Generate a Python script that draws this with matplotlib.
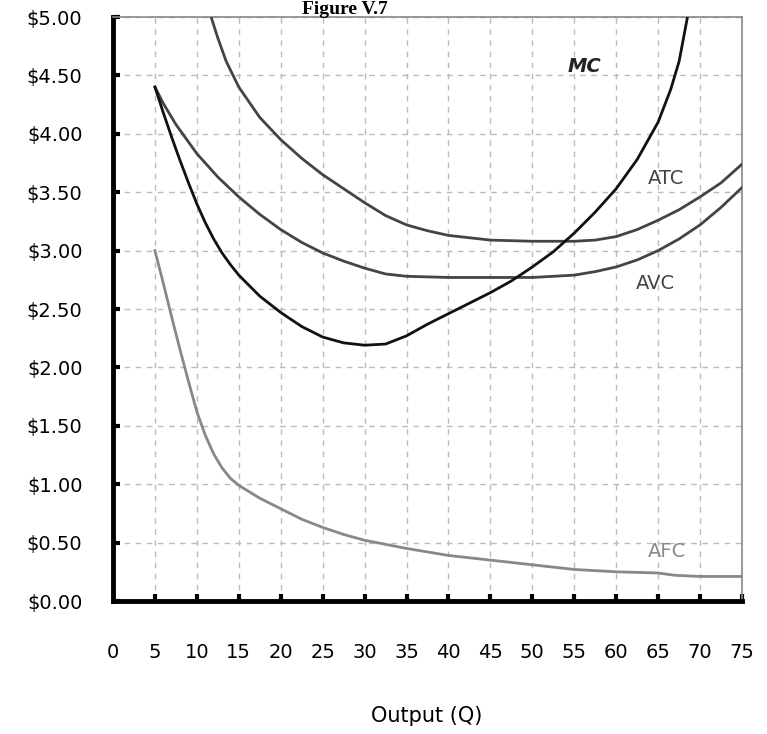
import matplotlib
matplotlib.use("Agg")
import matplotlib.pyplot as plt

# cost curves
mc_q = [5, 6, 7, 8, 9, 10, 11, 12, 13, 14, 15, 17.5, 20, 22.5, 25, 27.5, 30, 32.5, 35, 37.5,
        40, 42.5, 45, 47.5, 50, 52.5, 55, 57.5, 60, 62.5, 65, 66.5, 67.5, 68.5]
mc = [4.40, 4.18, 3.97, 3.77, 3.58, 3.40, 3.24, 3.10, 2.98, 2.88, 2.79, 2.61, 2.47, 2.35, 2.26, 2.21, 2.19, 2.20, 2.27, 2.37,
      2.46, 2.55, 2.64, 2.74, 2.86, 2.99, 3.15, 3.33, 3.53, 3.78, 4.10, 4.38, 4.62, 5.0]

atc_q = [11.7, 12.5, 13.5, 15, 17.5, 20, 22.5, 25, 27.5, 30, 32.5, 35, 37.5, 40, 42.5, 45, 50,
         55, 57.5, 60, 62.5, 65, 67.5, 70, 72.5, 75]
atc = [5.0, 4.82, 4.62, 4.40, 4.14, 3.95, 3.79, 3.65, 3.53, 3.41, 3.30, 3.22, 3.17, 3.13, 3.11, 3.09, 3.08,
       3.08, 3.09, 3.12, 3.18, 3.26, 3.35, 3.46, 3.58, 3.74]

avc_q = [5, 6, 7.5, 10, 12.5, 15, 17.5, 20, 22.5, 25, 27.5, 30, 32.5, 35, 40, 45, 50, 55, 57.5,
         60, 62.5, 65, 67.5, 70, 72.5, 75]
avc = [4.40, 4.26, 4.08, 3.83, 3.63, 3.46, 3.31, 3.18, 3.07, 2.98, 2.91, 2.85, 2.80, 2.78, 2.77, 2.77, 2.77, 2.79, 2.82,
       2.86, 2.92, 3.00, 3.10, 3.22, 3.37, 3.54]

afc_q = [5, 6, 7, 8, 9, 10, 11, 12, 13, 14, 15, 17.5, 20, 22.5, 25, 27.5, 30, 35, 40, 45, 50,
         55, 60, 65, 67, 70, 75]
afc = [3.0, 2.72, 2.43, 2.15, 1.88, 1.62, 1.42, 1.26, 1.14, 1.05, 0.99, 0.88, 0.79, 0.70, 0.63, 0.57, 0.52, 0.45, 0.39, 0.35, 0.31,
       0.27, 0.25, 0.24, 0.22, 0.21, 0.21]

x_ticks = list(range(0, 80, 5))
y_ticks = [0, 0.5, 1.0, 1.5, 2.0, 2.5, 3.0, 3.5, 4.0, 4.5, 5.0]
y_labels = ["$%.2f" % v for v in y_ticks]

fig = plt.figure(figsize=(7.67, 7.34), dpi=100)
ax = fig.add_axes([113 / 767, 1 - 601 / 734, 629 / 767, 584 / 734])

ax.plot(mc_q, mc, color="#111111", lw=2.0, zorder=4)
ax.plot(atc_q, atc, color="#444444", lw=2.0, zorder=3)
ax.plot(avc_q, avc, color="#444444", lw=2.0, zorder=3)
ax.plot(afc_q, afc, color="#888888", lw=2.0, zorder=3)

ax.set_xlim(0, 75)
ax.set_ylim(0, 5)
ax.set_xticks(x_ticks)
ax.set_xticklabels([str(t) for t in x_ticks])
ax.set_yticks(y_ticks)
ax.set_yticklabels(y_labels)

ax.grid(True, color="#bbbbbb", linestyle=(0, (4, 4)), lw=1.0)
for t in ax.xaxis.get_major_ticks()[:1]:
    t.tick1line.set_visible(False)

ax.tick_params(axis="x", direction="in", length=5, width=3, pad=30,
               labelsize=14, colors="black")
ax.tick_params(axis="y", direction="in", length=5, width=3, pad=22,
               labelsize=14, colors="black")

for side in ["left", "bottom"]:
    ax.spines[side].set_linewidth(3.5)
    ax.spines[side].set_color("black")
for side in ["top", "right"]:
    ax.spines[side].set_linewidth(1.2)
    ax.spines[side].set_color("#888888")

ax.text(56.2, 4.58, "MC", fontsize=14, fontweight="bold", fontstyle="italic",
        color="#222222", ha="center", va="center")
ax.text(66, 3.62, "ATC", fontsize=14, color="#444444", ha="center", va="center")
ax.text(64.7, 2.72, "AVC", fontsize=14, color="#444444", ha="center", va="center")
ax.text(66, 0.42, "AFC", fontsize=14, color="#888888", ha="center", va="center")

fig.text(345 / 767, 1 - 1 / 734, "Figure V.7", fontsize=14, fontweight="bold",
         family="Liberation Serif", ha="center", va="top")
fig.text(427 / 767, 1 - 706 / 734, "Output (Q)", fontsize=15,
         ha="center", va="top")

fig.savefig("out.png", dpi=100)
